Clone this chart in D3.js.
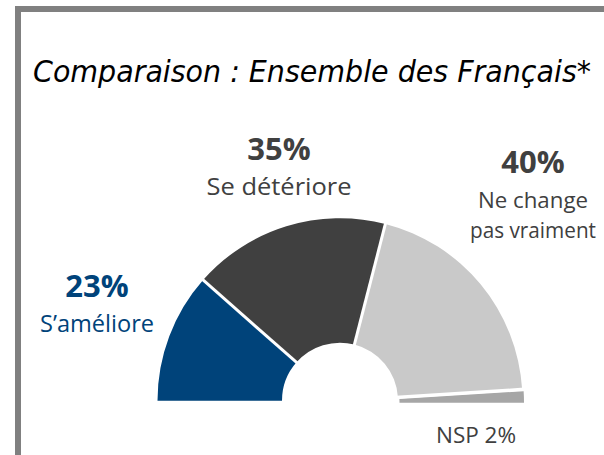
<!DOCTYPE html>
<html>
<head>
<meta charset="utf-8">
<script src="https://cdn.jsdelivr.net/npm/d3@7"></script>
<style>
  html, body { margin: 0; padding: 0; background: #fff; }
  svg { display: block; }
</style>
</head>
<body>
<script>
// ---- Data ----
const categories = ["S’améliore", "Se détériore", "Ne change pas vraiment", "NSP"];
const values = [23, 35, 40, 2];
const colors = ["#00437a", "#404040", "#c9c9c9", "#a6a6a6"];
const title = "Comparaison : Ensemble des Français*";

const W = 604, H = 455;
const svg = d3.select("body").append("svg").attr("width", W).attr("height", H);

// frame
svg.append("path").attr("d", "M15,9 L604,9").attr("stroke", "#808080").attr("stroke-width", 6).attr("fill", "none");
svg.append("path").attr("d", "M18,6 L18,455").attr("stroke", "#808080").attr("stroke-width", 6).attr("fill", "none");

// title
svg.append("text")
  .attr("x", 33).attr("y", 82)
  .attr("font-family", "DejaVu Sans Condensed, DejaVu Sans, sans-serif")
  .attr("font-style", "italic")
  .attr("font-size", 30)
  .attr("textLength", 558).attr("lengthAdjust", "spacingAndGlyphs")
  .attr("fill", "#000")
  .text(title);

// half donut
const cx = 340, cy = 400.7, R = 182.5, r = 58;
const pie = d3.pie().sort(null).startAngle(-Math.PI / 2).endAngle(Math.PI / 2);
const arcs = pie(values);
const arc = d3.arc().innerRadius(r).outerRadius(R);
const g = svg.append("g").attr("transform", `translate(${cx},${cy})`);
g.selectAll("path.slice").data(arcs).enter().append("path")
  .attr("class", "slice")
  .attr("d", arc)
  .attr("fill", (d, i) => colors[i])
  .attr("transform", (d, i) => i === 3 ? "translate(1.5,2)" : null);

// separators between slices
g.selectAll("line.sep").data(arcs.slice(0, -1)).enter().append("line")
  .attr("class", "sep")
  .attr("x1", d => (r - 2) * Math.sin(d.endAngle)).attr("y1", d => -(r - 2) * Math.cos(d.endAngle))
  .attr("x2", d => (R + 2) * Math.sin(d.endAngle)).attr("y2", d => -(R + 2) * Math.cos(d.endAngle))
  .attr("stroke", "#fff").attr("stroke-width", 3);

// labels
const font = "Open Sans, sans-serif";
const labels = [
  { pct: values[0] + "%", lines: ["S’améliore"], widths: [114], fs: 23.5, x: 97, y: 297, color: "#00437a" },
  { pct: values[1] + "%", lines: ["Se détériore"], widths: [145], fs: 23.5, x: 279, y: 160, color: "#404040" },
  { pct: values[2] + "%", lines: ["Ne change", "pas vraiment"], widths: [110, 126], fs: 21, x: 533, y: 173, color: "#404040" }
];
labels.forEach(l => {
  svg.append("text").attr("x", l.x).attr("y", l.y)
    .attr("text-anchor", "middle").attr("font-family", font)
    .attr("font-weight", "bold").attr("font-size", 31)
    .attr("fill", l.color).text(l.pct);
  l.lines.forEach((t, k) => {
    svg.append("text").attr("x", l.x).attr("y", l.y + 35 + k * 30)
      .attr("text-anchor", "middle").attr("font-family", font)
      .attr("font-size", l.fs)
      .attr("textLength", l.widths[k]).attr("lengthAdjust", "spacingAndGlyphs")
      .attr("fill", l.color).text(t);
  });
});
svg.append("text").attr("x", 476).attr("y", 443)
  .attr("text-anchor", "middle").attr("font-family", font)
  .attr("font-size", 22.5).attr("fill", "#404040")
  .text(categories[3] + " " + values[3] + "%");
</script>
</body>
</html>
